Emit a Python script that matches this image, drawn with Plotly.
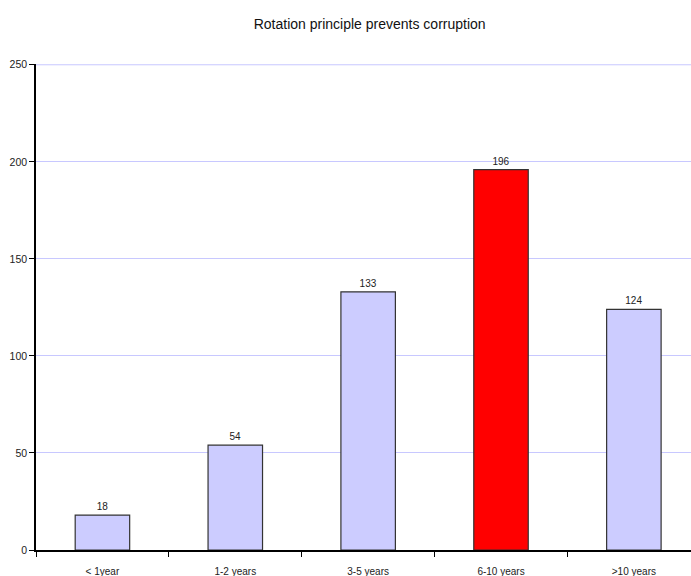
import plotly.graph_objects as go

categories = ["< 1year", "1-2 years", "3-5 years", "6-10 years", ">10 years"]
values = [18, 54, 133, 196, 124]
colors = ["#ccccff", "#ccccff", "#ccccff", "#ff0000", "#ccccff"]
y_ticks = [0, 50, 100, 150, 200, 250]

fig = go.Figure(go.Bar(
    x=categories, y=values,
    marker=dict(color=colors, line=dict(color="#333333", width=1.2)),
    width=0.41,
    text=[str(v) for v in values], textposition="outside",
    textfont=dict(family="Liberation Sans, Arial", size=10, color="#222222"),
    cliponaxis=False,
))

fig.update_layout(
    width=691, height=576,
    margin=dict(l=36, r=0, t=64, b=26),
    paper_bgcolor="white", plot_bgcolor="white",
    title=dict(text="Rotation principle prevents corruption", x=0.535, xanchor="center",
               y=1 - 24/576, yanchor="middle",
               font=dict(family="Liberation Sans, Arial", size=14, color="#111111")),
    showlegend=False,
    shapes=[dict(type="line", xref="paper", x0=0, x1=1, yref="y", y0=y_ticks[-1], y1=y_ticks[-1],
                 line=dict(color="#c8c8ff", width=1), layer="below")],
)
fig.update_xaxes(
    type="category", range=[-0.5, 4.43], tickson="boundaries",
    ticks="outside", ticklen=5, tickcolor="black", showline=True, linecolor="black", linewidth=1.5,
    showgrid=False, ticklabelstandoff=11,
    tickfont=dict(family="Liberation Sans, Arial", size=10, color="#222222"),
)
fig.update_yaxes(
    range=[0, 250.4], tickvals=y_ticks, ticks="outside", ticklen=5, tickcolor="black",
    showline=True, linecolor="black", linewidth=1.5,
    showgrid=True, gridcolor="#c8c8ff", gridwidth=1, zeroline=False,
    tickfont=dict(family="Liberation Sans, Arial", size=10.5, color="#222222"),
    ticklabelstandoff=0,
)

fig.write_html("out.html")
